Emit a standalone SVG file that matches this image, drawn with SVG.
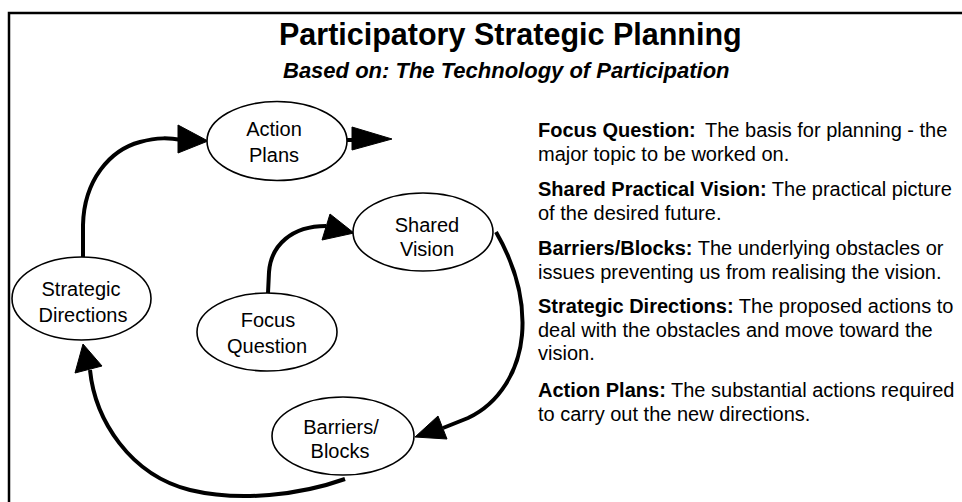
<svg xmlns="http://www.w3.org/2000/svg" width="962" height="502" viewBox="0 0 962 502">
<defs>
<style>
.bg{fill:#ffffff}
.frame{fill:none;stroke:#000;stroke-width:2.5}
.node ellipse{fill:#fff;stroke:#000;stroke-width:1.6}
.node text{font-family:"Liberation Sans",Arial,sans-serif;font-size:20px;fill:#000;text-anchor:middle}
.conn path{fill:none;stroke:#000;stroke-width:4;stroke-linecap:butt}
.conn polygon{fill:#000;stroke:#000;stroke-width:1}
.title{font-family:"Liberation Sans",Arial,sans-serif;font-weight:bold;font-size:30.5px;fill:#000}
.subtitle{font-family:"Liberation Sans",Arial,sans-serif;font-weight:bold;font-style:italic;font-size:22px;fill:#000}
.desc{font-family:"Liberation Sans",Arial,sans-serif;font-size:20px;fill:#000}
.desc .b{font-weight:bold}
</style>
</defs>
<rect class="bg" x="0" y="0" width="962" height="502"/>
<path class="frame" d="M9,510 V13 H970"/>
<text class="title" x="279" y="45">Participatory Strategic Planning</text>
<text class="subtitle" x="283" y="78">Based on: The Technology of Participation</text>

<g id="connectors" class="conn">
<g id="c-strategic-action">
<path d="M83,257 L83,225 C84,180 110,150 140,142 C158,137 170,138 182,140"/>
<polygon points="178,125 178,153 208,141"/>
</g>
<g id="c-action-out">
<path d="M347,140 L354,140"/>
<polygon points="352,127 352,150 392,139"/>
</g>
<g id="c-focus-shared">
<path d="M268,293 L269,272 C271,245 292,226 326,226"/>
<polygon points="330,214 322,240 354,233"/>
</g>
<g id="c-shared-barriers">
<path d="M496,232 C515,265 525,300 522,335 C519,370 500,403 468,418 L443,428"/>
<polygon points="415,437 438,416 447,439"/>
</g>
<g id="c-barriers-strategic">
<path d="M345,479 C300,495 240,502 190,490 C130,475 95,420 90,370"/>
<polygon points="83,344 75,373 102,366"/>
</g>
</g>

<g id="node-action-plans" class="node">
<ellipse cx="277" cy="141" rx="70" ry="39.5"/>
<text x="274" y="136">Action</text>
<text x="274" y="162">Plans</text>
</g>
<g id="node-shared-vision" class="node">
<ellipse cx="423" cy="232" rx="70" ry="39"/>
<text x="427" y="232">Shared</text>
<text x="427" y="256">Vision</text>
</g>
<g id="node-strategic-directions" class="node">
<ellipse cx="81.5" cy="298.5" rx="69.5" ry="41.5"/>
<text x="81" y="296">Strategic</text>
<text x="83" y="322">Directions</text>
</g>
<g id="node-focus-question" class="node">
<ellipse cx="267" cy="332" rx="70" ry="39"/>
<text x="268" y="327">Focus</text>
<text x="267" y="353">Question</text>
</g>
<g id="node-barriers-blocks" class="node">
<ellipse cx="343" cy="436" rx="71" ry="39"/>
<text x="341" y="434">Barriers/</text>
<text x="340" y="458">Blocks</text>
</g>

<g id="descriptions" class="desc">
<text x="538" y="137"><tspan class="b">Focus Question:</tspan><tspan dx="4"> The basis for planning - the</tspan></text>
<text x="538" y="160.5">major topic to be worked on.</text>
<text x="538" y="196"><tspan class="b">Shared Practical Vision:</tspan> The practical picture</text>
<text x="538" y="219.5">of the desired future.</text>
<text x="538" y="255"><tspan class="b">Barriers/Blocks:</tspan> The underlying obstacles or</text>
<text x="538" y="278.5">issues preventing us from realising the vision.</text>
<text x="538" y="313"><tspan class="b">Strategic Directions:</tspan> The proposed actions to</text>
<text x="538" y="336.5">deal with the obstacles and move toward the</text>
<text x="538" y="360">vision.</text>
<text x="538" y="397"><tspan class="b">Action Plans:</tspan> The substantial actions required</text>
<text x="538" y="420.5">to carry out the new directions.</text>
</g>
</svg>
